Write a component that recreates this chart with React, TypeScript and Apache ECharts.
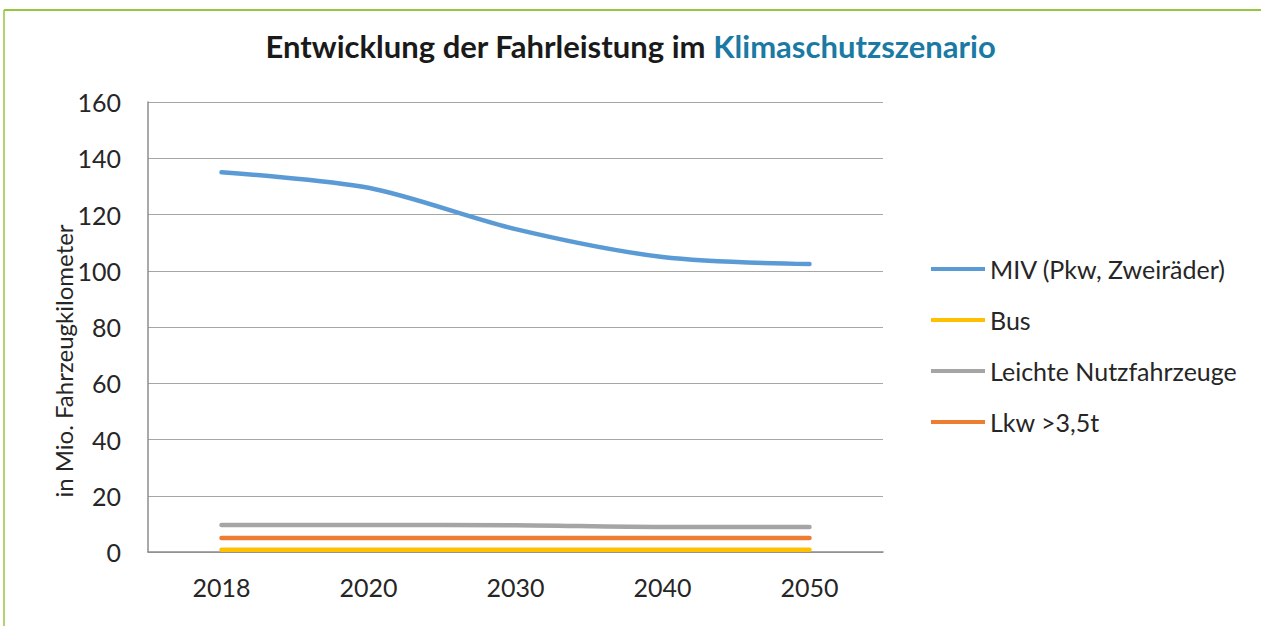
import React, { useEffect, useRef } from "react";
import * as echarts from "echarts";

const years = ["2018", "2020", "2030", "2040", "2050"];
const miv = [135, 129.5, 114.8, 104.9, 102.4];
const bus = [0.8, 0.8, 0.8, 0.8, 0.8];
const lnf = [9.6, 9.6, 9.5, 8.9, 8.9];
const lkw = [5.0, 5.0, 5.0, 5.0, 5.0];
const yTicks = { min: 0, max: 160, interval: 20 };
const yAxisTitle = "in Mio. Fahrzeugkilometer";

const FONT = "Lato, 'Open Sans', sans-serif";

export default function App() {
  const ref = useRef<HTMLDivElement>(null);
  useEffect(() => {
    document.body.style.margin = "0";
    const chart = echarts.init(ref.current!, null, { renderer: "svg" });
    const mk = (name: string, data: number[], color: string, smooth: number | boolean) => ({
      name,
      type: "line",
      data,
      smooth,
      symbol: "none",
      lineStyle: { color, width: 4.5, cap: "round" },
      itemStyle: { color },
    });
    chart.setOption({
      animation: false,
      backgroundColor: "#ffffff",
      textStyle: { fontFamily: FONT },
      title: {
        text: "{a|Entwicklung der Fahrleistung im }{b|Klimaschutzszenario}",
        left: "center",
        top: 25,
        textStyle: {
          rich: {
            a: { fontSize: 31, fontWeight: "bold", color: "#1a1a1a", fontFamily: FONT },
            b: { fontSize: 31, fontWeight: "bold", color: "#1b7aa3", fontFamily: FONT },
          },
        },
      },
      grid: { left: 148, top: 102, right: 378, bottom: 74, containLabel: false },
      legend: {
        orient: "vertical",
        left: 926,
        top: 251,
        icon: "rect",
        itemWidth: 54,
        itemHeight: 4,
        itemGap: 25,
        textStyle: { fontSize: 25, lineHeight: 26, color: "#262626", fontFamily: FONT },
        data: ["MIV (Pkw, Zweiräder)", "Bus", "Leichte Nutzfahrzeuge", "Lkw >3,5t"],
      },
      xAxis: {
        type: "category",
        data: years,
        boundaryGap: true,
        axisLine: { lineStyle: { color: "#8c8c8c", width: 1.5 } },
        axisTick: { show: false },
        axisLabel: { fontSize: 25, color: "#262626", margin: 22, fontFamily: FONT },
      },
      yAxis: {
        type: "value",
        min: yTicks.min,
        max: yTicks.max,
        interval: yTicks.interval,
        axisLine: { show: true, lineStyle: { color: "#8c8c8c", width: 1.5 } },
        axisTick: { show: false },
        splitLine: { lineStyle: { color: "#a6a6a6", width: 1 } },
        axisLabel: { fontSize: 25, color: "#262626", margin: 27, fontFamily: FONT },
      },
      series: [
        mk("MIV (Pkw, Zweiräder)", miv, "#5b9bd5", 0.3),
        mk("Bus", bus, "#ffc000", false),
        mk("Leichte Nutzfahrzeuge", lnf, "#a5a5a5", 0.3),
        mk("Lkw >3,5t", lkw, "#ed7d31", false),
      ],
      graphic: [
        { type: "line", shape: { x1: 4, y1: 10, x2: 1261, y2: 10 }, style: { stroke: "#92c83e", lineWidth: 2 }, silent: true },
        { type: "line", shape: { x1: 4, y1: 10, x2: 4, y2: 626 }, style: { stroke: "#92c83e", lineWidth: 1.5 }, silent: true },
        {
          type: "text",
          x: 63,
          y: 361,
          rotation: Math.PI / 2,
          style: {
            text: yAxisTitle,
            fontSize: 24,
            fontFamily: FONT,
            fill: "#262626",
            align: "center",
            verticalAlign: "middle",
          },
          silent: true,
        },
      ],
    });
    return () => chart.dispose();
  }, []);
  return <div ref={ref} style={{ width: 1261, height: 626 }} />;
}
